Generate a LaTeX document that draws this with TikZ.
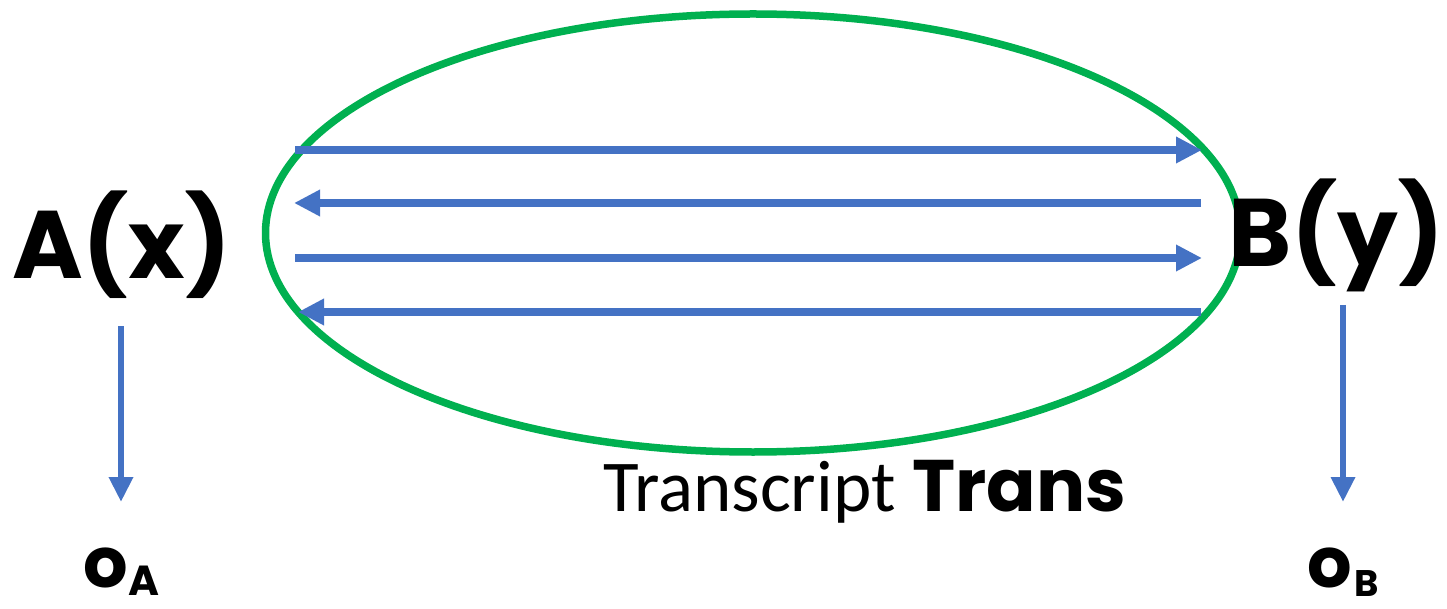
\documentclass[tikz,border=0pt]{standalone}
\usepackage{fontspec}
\setmainfont{Carlito}
\newfontfamily\comic{Poppins}
\usetikzlibrary{arrows.meta,shapes.geometric}
\definecolor{ogreen}{RGB}{0,176,80}
\definecolor{oblue}{RGB}{68,114,196}
\begin{document}
\begin{tikzpicture}[x=1pt,y=-1pt,
  harr/.style={draw=oblue,line width=8pt,-{Triangle[length=26pt,width=25pt]}},
  varr/.style={draw=oblue,line width=6.5pt,-{Triangle[length=25pt,width=23pt]}},
  big/.style={font=\comic\bfseries\fontsize{96}{100}\selectfont,inner sep=0pt},
  outl/.style={font=\comic\bfseries,inner sep=0pt}]
\useasboundingbox (0,0) rectangle (1447,609);
\node[draw=ogreen,line width=7.5pt,ellipse,minimum width=975pt,minimum height=438pt,inner sep=0pt] (ell) at (753,233) {};
\coordinate (l1) at (295,150); \coordinate (r1) at (1202,150);
\coordinate (l2) at (294,203); \coordinate (r2) at (1201,203);
\coordinate (l3) at (295,258); \coordinate (r3) at (1202,258);
\coordinate (l4) at (298,312); \coordinate (r4) at (1201,312);
\draw[harr] (l1) -- (r1);
\draw[harr] (r2) -- (l2);
\draw[harr] (l3) -- (r3);
\draw[harr] (r4) -- (l4);
\node[big,anchor=west] (A) at (12,245) {A(x)};
\node[big,anchor=east] (B) at (1444,235) {B(y)};
\coordinate (As) at (121,326);
\coordinate (Bs) at (1343,305);
\node[outl,anchor=base west] (oA) at (83,587) {{\fontsize{70}{70}\selectfont o}\kern1pt\raisebox{-8pt}{\fontsize{42}{42}\selectfont A}};
\node[outl,anchor=base west] (oB) at (1307,587) {{\fontsize{70}{70}\selectfont o}\kern3pt\raisebox{-9pt}{\fontsize{37}{37}\selectfont B}};
\draw[varr] (As) -- (121,502);
\draw[varr] (Bs) -- (1343,502);
\node[font=\fontsize{73}{76}\selectfont,anchor=base west,inner sep=0pt] (t) at (603,511) {Transcript \comic\bfseries Trans};
\end{tikzpicture}
\end{document}
